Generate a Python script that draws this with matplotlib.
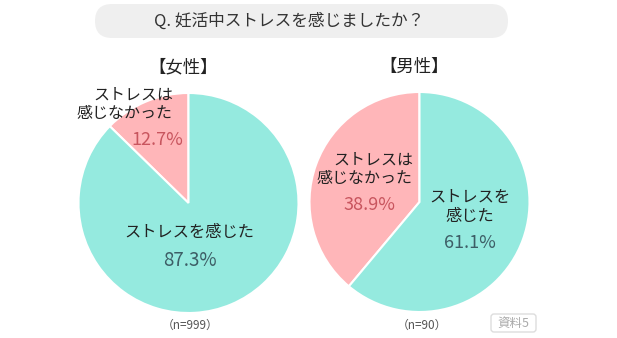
import matplotlib
matplotlib.use("Agg")
import matplotlib.pyplot as plt
from matplotlib.patches import FancyBboxPatch

plt.rcParams['font.family'] = ['Noto Sans CJK JP', 'DejaVu Sans']

# data
title = "Q. 妊活中ストレスを感じましたか？"
groups = ["【女性】", "【男性】"]
labels = ["ストレスは\n感じなかった", "ストレスを感じた"]
female_values = [12.7, 87.3]
male_values = [38.9, 61.1]
sample_sizes = ["（n=999）", "（n=90）"]

PINK = "#ffb6b9"
TEAL = "#95eadf"
PINK_TXT = "#c8555e"
TEAL_TXT = "#3d5e66"
H = 338

fig = plt.figure(figsize=(6.17, 3.38), dpi=100)
ax = fig.add_axes([0, 0, 1, 1])
ax.axis("off")

# 0. title pill
pill = FancyBboxPatch((95, H - 38), 413, 34, boxstyle="round,pad=0,rounding_size=17",
                      fc="#efefef", ec="none")
ax.add_patch(pill)
ax.text(289, H - 21, title, ha="center", va="center", fontsize=12, color="#333333")

# 1. the two pies
centers = [(188.5, H - 203), (419.5, H - 202)]
for (cx, cy), vals, grp, n in zip(centers, [female_values, male_values], groups, sample_sizes):
    ax.pie(vals, colors=[PINK, TEAL], startangle=90, counterclock=True,
           center=(cx, cy), radius=110,
           wedgeprops=dict(edgecolor="white", linewidth=1.5))
    ax.text(cx - 5, H - 67, grp, ha="center", va="center", fontsize=12.5, color="#222222")
    ax.text(cx + 2, H - 325, n, ha="center", va="center", fontsize=8.5, color="#555555")

# female labels
ax.text(173, H - 104, labels[0], ha="right", va="center", fontsize=11.5,
        color="#222222", linespacing=1.1)
ax.text(157, H - 140, f"{female_values[0]}%", ha="center", va="center", fontsize=13, color=PINK_TXT)
ax.text(189, H - 232, labels[1], ha="center", va="center", fontsize=11.7, color="#222222")
ax.text(190, H - 260, f"{female_values[1]}%", ha="center", va="center", fontsize=13.5, color=TEAL_TXT)

# male labels
ax.text(413, H - 169, labels[0], ha="right", va="center", fontsize=11.5,
        color="#222222", linespacing=1.1)
ax.text(370, H - 205, f"{male_values[0]}%", ha="center", va="center", fontsize=13, color=PINK_TXT)
ax.text(470, H - 207, "ストレスを\n感じた", ha="center", va="center", fontsize=11.7,
        color="#222222", linespacing=1.1)
ax.text(470, H - 243, f"{male_values[1]}%", ha="center", va="center", fontsize=13, color=TEAL_TXT)

# source tag
tag = FancyBboxPatch((491, H - 332), 45, 18, boxstyle="round,pad=0,rounding_size=3",
                     fc="white", ec="#dddddd", lw=1)
ax.add_patch(tag)
ax.text(513.5, H - 323, "資料5", ha="center", va="center", fontsize=9, color="#aaaaaa")

ax.set_xlim(0, 617)
ax.set_ylim(0, H)
ax.set_aspect("equal")

fig.savefig("out.png", dpi=100)
